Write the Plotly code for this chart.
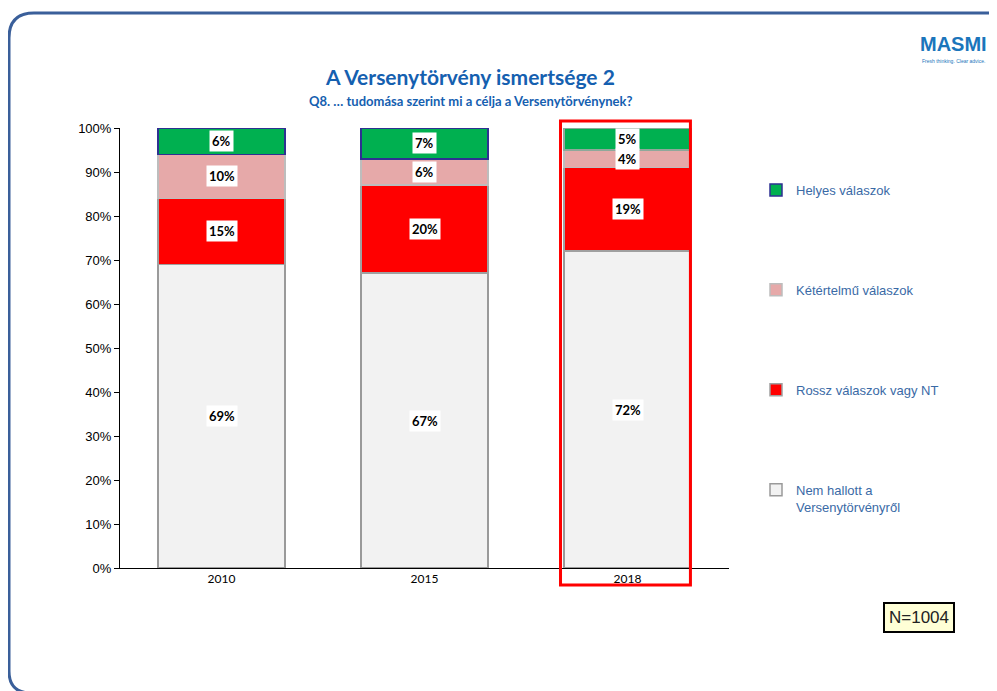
import plotly.graph_objects as go

years = ["2010", "2015", "2018"]
series_names = ["Nem hallott a<br>Versenytörvényről", "Rossz válaszok vagy NT",
                "Kétértelmű válaszok", "Helyes válaszok"]
nem_hallott = [69, 67, 72]
rossz = [15, 20, 19]
ketertelmu = [10, 6, 4]
helyes = [6, 7, 5]
series_values = [nem_hallott, rossz, ketertelmu, helyes]
colors = ["#F2F2F2", "#FF0000", "#E6A9A9", "#00B050"]
line_colors = [["#9A9A9A"] * 3, ["#A0A0A0"] * 3, ["#BDBDBD"] * 3,
               ["#2E3192", "#2E3192", "#8FA89A"]]
legend_ranks = [4, 3, 2, 1]

OFF = 8  # page body margin
FW, FH = 997 - OFF, 691 - OFF
PL, PR, PT, PB = 120, 729, 128, 568  # plot area in page pixels
L, T = PL - OFF, PT - OFF
R, B = FW - (PR - OFF), FH - (PB - OFF)
PW, PH = PR - PL, PB - PT

def px(x):
    return (x - PL) / PW

def py(y):
    return (PB - y) / PH

fig = go.Figure()
for i, (name, vals) in enumerate(zip(series_names, series_values)):
    fig.add_trace(go.Bar(
        x=years, y=vals, name=name, legendgroup=str(i), legendrank=legend_ranks[i],
        marker=dict(color=colors[i], line=dict(color=line_colors[i], width=1.5)),
        width=0.625, hoverinfo="skip",
    ))

annotations = []
for j, yr in enumerate(years):
    base = 0
    for vals in series_values:
        v = vals[j]
        annotations.append(dict(
            x=j, y=base + v / 2, xref="x", yref="y", text=f"<b>{v}%</b>",
            showarrow=False, bgcolor="white", borderpad=2,
            xanchor="center", yanchor="middle",
            font=dict(family="Lato", size=13, color="black")))
        base += v

def note(xp, yp, text, **kw):
    d = dict(x=px(xp), y=py(yp), xref="paper", yref="paper", showarrow=False,
             xanchor="center", yanchor="middle", text=text)
    d.update(kw)
    return d

annotations += [
    note(470, 76, "<b>A Versenytörvény ismertsége 2</b>",
         font=dict(family="Lato", size=21, color="#1560B0")),
    note(470, 101, "<b>Q8. … tudomása szerint mi a célja a Versenytörvénynek?</b>",
         font=dict(family="Lato", size=13, color="#1560B0")),
    note(953, 44, "<b>MASMI</b>",
         font=dict(family="Liberation Sans", size=20, color="#1B75BB")),
    note(953, 61, "Fresh thinking. Clear advice.",
         font=dict(family="Liberation Sans", size=5, color="#1B75BB")),
    note(919, 617, "N=1004", bgcolor="#FFFFD6", bordercolor="black", borderwidth=2,
         borderpad=4, font=dict(family="Liberation Sans", size=17, color="#222")),
]

xl, xr, yt, yb = 9, 1010, 13, 693
r1, r2 = 25, 22
frame_path = (f"M {px(xl)},{py(yb - r2)} L {px(xl)},{py(yt + r1)} "
              f"Q {px(xl)},{py(yt)} {px(xl + r1)},{py(yt)} L {px(xr)},{py(yt)} "
              f"M {px(xl)},{py(yb - r2)} Q {px(xl)},{py(yb)} {px(xl + r2)},{py(yb)}")

# highlight box around the last category (paper coords from category slot)
n = len(years)
hx_c = (n - 1 + 0.5) / n
shapes = [
    dict(type="path", xref="paper", yref="paper", path=frame_path,
         line=dict(color="#3A5F9A", width=3)),
    dict(type="rect", xref="paper", yref="paper",
         x0=hx_c - 0.33 / n, x1=hx_c + 0.31 / n, y0=py(585), y1=py(121),
         line=dict(color="#FF0000", width=3), fillcolor="rgba(0,0,0,0)", layer="above"),
]

fig.update_layout(
    width=FW, height=FH, barmode="stack", bargap=0.375,
    margin=dict(l=L, r=R, t=T, b=B, autoexpand=False),
    paper_bgcolor="white", plot_bgcolor="white",
    annotations=annotations, shapes=shapes,
    showlegend=True,
    legend=dict(x=px(756), y=py(175), xanchor="left", yanchor="top",
                traceorder="grouped", tracegroupgap=80, valign="top",
                itemwidth=30,
                font=dict(family="Liberation Sans", size=13, color="#3A6AA6"),
                bgcolor="rgba(0,0,0,0)"),
    xaxis=dict(showline=True, linecolor="black", linewidth=1, ticks="",
               tickfont=dict(family="Lato", size=12, color="black"),
               showgrid=False, range=[-0.5, 2.5], type="category"),
    yaxis=dict(range=[0, 100], dtick=10, ticksuffix="%", showline=True,
               linecolor="black", linewidth=1, ticks="outside", ticklen=5,
               tickcolor="black", showgrid=False, zeroline=False,
               tickfont=dict(family="Liberation Sans", size=13, color="black")),
    font=dict(family="Liberation Sans"),
)

fig.write_html("out.html")
